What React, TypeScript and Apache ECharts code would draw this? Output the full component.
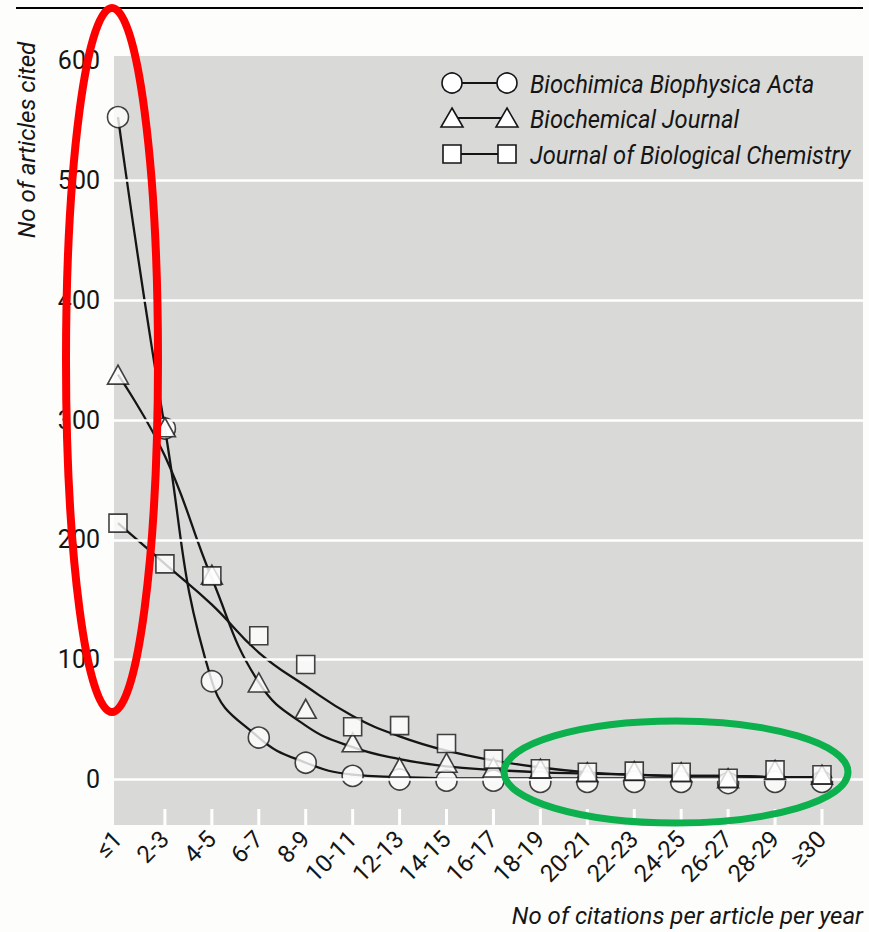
import React, { useEffect, useRef } from "react";
import * as echarts from "echarts";

const categories = ["≤1", "2-3", "4-5", "6-7", "8-9", "10-11", "12-13", "14-15", "16-17", "18-19", "20-21", "22-23", "24-25", "26-27", "28-29", "≥30"];
const seriesNames = ["Biochimica Biophysica Acta", "Biochemical Journal", "Journal of Biological Chemistry"];

// observed points
const bbaPoints = [553, 293, 82, 35, 14, 3, 0, -1, -1, -2, -2, -2, -2, -3, -2, -2];
const bjPoints = [338, 294, 171, 81, 59, 31, 10, 14, 10, 9, 6, 7, 6, 1, 8, 4];
const jbcPoints = [214, 180, 170, 120, 96, 44, 45, 30, 17, 9, 6, 7, 6, 1, 8, 4];

// fitted curves (read at each category)
const bbaCurve = [553, 293, 82, 35, 14, 4, 2, 1, 1, 1, 1, 1, 1, 1, 1, 1];
const bjCurve = [338, 270, 168, 81, 45, 27, 17, 11, 8, 6, 5, 4, 3, 3, 2, 2];
const jbcCurve = [214, 180, 146, 106, 78, 53, 36, 24, 16, 10, 6, 4, 3, 3, 2, 2];

const yTicks = [0, 100, 200, 300, 400, 500, 600];
const gridValues = [0, 100, 200, 300, 400, 500];
const Y_MIN = -38;
const Y_MAX = 604;

const FONT = "Roboto, 'Liberation Sans', sans-serif";
const INK = "#151515";

export default function App() {
  const ref = useRef<HTMLDivElement>(null);
  useEffect(() => {
    if (!ref.current) return;
    const chart = echarts.init(ref.current, null, { renderer: "svg" });
    const idx = (arr: number[]) => arr.map((v, i) => [i, v]);
    const markerStyle = { color: "#ffffff", borderColor: INK, borderWidth: 1.6 };
    const curve = (name: string, data: number[]) => ({
      name,
      type: "line",
      data: idx(data),
      smooth: 0.45,
      showSymbol: false,
      symbol: "none",
      lineStyle: { color: INK, width: 2.3 },
      z: 3,
      silent: true,
    });
    const legendRows = [
      { y: 83, sym: "circle" },
      { y: 118, sym: "triangle" },
      { y: 154, sym: "square" },
    ];
    const legendSymbol = (sym: string, cx: number, cy: number) => {
      const style = { fill: "#ffffff", stroke: INK, lineWidth: 1.6 };
      if (sym === "circle") return { type: "circle", shape: { cx, cy, r: 10 }, style, z: 20 };
      if (sym === "triangle")
        return { type: "polygon", shape: { points: [[cx, cy - 10], [cx + 11, cy + 9], [cx - 11, cy + 9]] }, style, z: 20 };
      return { type: "rect", shape: { x: cx - 9, y: cy - 9, width: 18, height: 18 }, style, z: 20 };
    };
    const legendGraphics: any[] = [];
    legendRows.forEach((r, i) => {
      legendGraphics.push({ type: "line", shape: { x1: 452, y1: r.y, x2: 507, y2: r.y }, style: { stroke: INK, lineWidth: 2.2 }, z: 19 });
      legendGraphics.push(legendSymbol(r.sym, 452, r.y));
      legendGraphics.push(legendSymbol(r.sym, 507, r.y));
      legendGraphics.push({
        type: "text",
        x: 530,
        y: r.y + 1,
        scaleX: 0.95,
        style: { text: seriesNames[i], font: `italic 25px ${FONT}`, fill: INK, textAlign: "left", textVerticalAlign: "middle" },
        z: 20,
      });
    });

    // white inward tick marks at the bottom edge, one per category after the first
    const tickMid = Y_MIN + 8 / 1.198;
    const tickData = categories.slice(1).map((_, k) => [k + 1, tickMid]);

    chart.setOption({
      animation: false,
      backgroundColor: "#fdfdfb",
      grid: { left: 114, right: 6, top: 56, bottom: 107, show: true, backgroundColor: "#d9dad8", borderWidth: 0 },
      xAxis: {
        type: "value",
        min: -0.085,
        max: 15.874,
        splitLine: { show: false },
        axisLine: { show: false, onZero: false },
        axisTick: { show: false },
        axisLabel: {
          customValues: categories.map((_, i) => i),
          formatter: (v: number) => categories[Math.round(v)] ?? "",
          rotate: 45,
          margin: 10,
          color: INK,
          fontSize: 24,
          fontFamily: FONT,
        },
      },
      yAxis: {
        type: "value",
        min: Y_MIN,
        max: Y_MAX,
        splitLine: { show: false },
        axisLine: { show: false },
        axisTick: { show: false },
        axisLabel: { customValues: yTicks, margin: 14, color: INK, fontSize: 25, fontFamily: FONT },
      },
      graphic: [
        { type: "line", shape: { x1: 16, y1: 8, x2: 863, y2: 8 }, style: { stroke: "#000", lineWidth: 2.2 }, z: 50 },
        {
          type: "text",
          x: 27,
          y: 140,
          rotation: Math.PI / 2,
          style: { text: "No of articles cited", font: `italic 24px ${FONT}`, fill: INK, textAlign: "center", textVerticalAlign: "middle" },
          z: 20,
        },
        {
          type: "text",
          x: 863,
          y: 916,
          style: { text: "No of citations per article per year", font: `italic 24px ${FONT}`, fill: INK, textAlign: "right", textVerticalAlign: "middle" },
          z: 20,
        },
        ...legendGraphics,
        { type: "ellipse", shape: { cx: 112, cy: 360, rx: 46, ry: 352 }, style: { fill: "none", stroke: "#ff0000", lineWidth: 8 }, z: 60 },
        { type: "ellipse", shape: { cx: 676, cy: 772, rx: 172, ry: 51 }, style: { fill: "none", stroke: "#0cb04c", lineWidth: 7 }, z: 60 },
      ],
      series: [
        {
          name: "grid",
          type: "line",
          data: [],
          z: 1,
          silent: true,
          markLine: {
            silent: true,
            symbol: "none",
            label: { show: false },
            lineStyle: { color: "#ffffff", width: 2.5, type: "solid" },
            data: gridValues.map((v) => ({ yAxis: v })),
          },
        },
        {
          name: "ticks",
          type: "scatter",
          data: tickData,
          symbol: "rect",
          symbolSize: [3, 16],
          itemStyle: { color: "#ffffff", opacity: 1 },
          silent: true,
          z: 10,
        },
        curve(seriesNames[0], bbaCurve),
        curve(seriesNames[1], bjCurve),
        curve(seriesNames[2], jbcCurve),
        { name: seriesNames[0], type: "scatter", data: idx(bbaPoints), symbol: "circle", symbolSize: 21, itemStyle: markerStyle, z: 4 },
        { name: seriesNames[1], type: "scatter", data: idx(bjPoints), symbol: "triangle", symbolSize: [21, 19], itemStyle: markerStyle, z: 5 },
        { name: seriesNames[2], type: "scatter", data: idx(jbcPoints), symbol: "rect", symbolSize: 18, itemStyle: markerStyle, z: 6 },
      ],
    });
    return () => chart.dispose();
  }, []);
  return <div ref={ref} style={{ position: "absolute", left: 0, top: 0, width: 869, height: 932 }} />;
}
